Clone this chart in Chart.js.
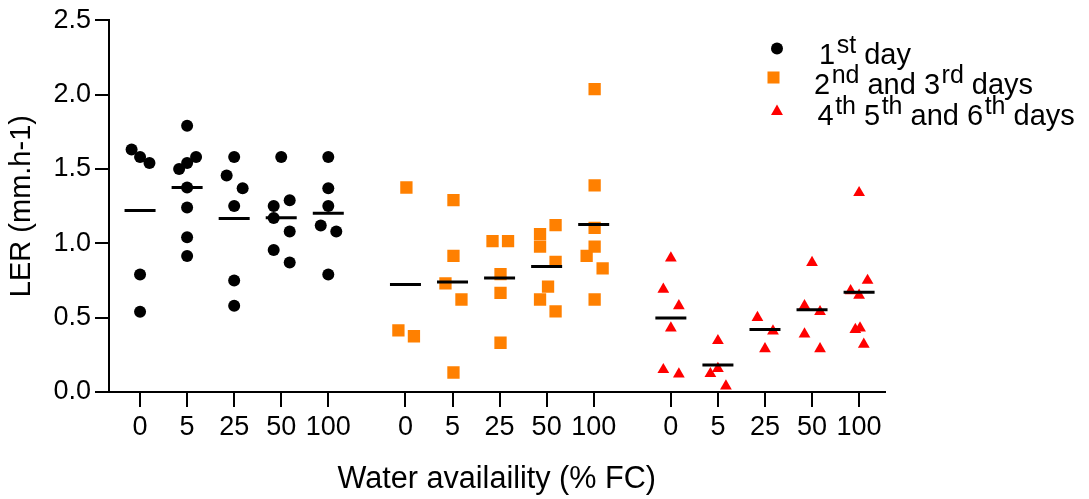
<!DOCTYPE html>
<html>
<head>
<meta charset="utf-8">
<script src="https://cdn.jsdelivr.net/npm/chart.js@4.4.1/dist/chart.umd.min.js"></script>
<style>
html, body { margin: 0; padding: 0; background: #ffffff; }
#wrap { width: 1089px; height: 499px; position: relative; }
canvas { display: block; }
</style>
</head>
<body>
<div id="wrap"><canvas id="c" width="1089" height="499"></canvas></div>
<script>
// ---------- DATA ----------
const tickLabels = ['0', '5', '25', '50', '100'];
const seriesNames = ['1^st day', '2^nd and 3^rd days', '4^th 5^th and 6^th days'];
const yTitle = 'LER (mm.h-1)';
const xTitle = 'Water availaility (% FC)';

// LER values per water-availability category (0, 5, 25, 50, 100)
const day1Values = [
  [1.63, 1.58, 1.54, 0.79, 0.54],
  [1.79, 1.58, 1.54, 1.50, 1.375, 1.24, 1.04, 0.915],
  [1.58, 1.455, 1.37, 1.25, 0.75, 0.58],
  [1.58, 1.29, 1.25, 1.17, 1.08, 0.955, 0.87],
  [1.58, 1.37, 1.25, 1.12, 1.08, 0.79]
];
const day1Jitter = [
  [-0.18, 0, 0.2, 0, 0],
  [0, 0.19, 0, -0.17, 0, 0, 0, 0],
  [0, -0.16, 0.18, 0, 0, 0],
  [0, 0.18, -0.16, -0.16, 0.18, -0.16, 0.18],
  [0, 0, 0, -0.16, 0.17, 0]
];
const day1Means = [1.22, 1.375, 1.167, 1.171, 1.202];

const day23Values = [
  [1.375, 0.415, 0.375],
  [1.29, 0.915, 0.731, 0.622, 0.131],
  [1.015, 1.015, 0.793, 0.667, 0.331],
  [1.122, 1.062, 0.977, 0.875, 0.709, 0.622, 0.542],
  [2.037, 1.389, 1.104, 0.977, 0.915, 0.831, 0.622]
];
const day23Jitter = [
  [0.02, -0.15, 0.18],
  [0.02, 0.02, -0.15, 0.19, 0.02],
  [-0.15, 0.18, 0.02, 0.02, 0.02],
  [0.19, -0.14, -0.14, 0.19, 0.03, -0.14, 0.19],
  [0.02, 0.02, 0.02, 0.02, -0.15, 0.19, 0.02]
];
const day23Means = [0.722, 0.74, 0.767, 0.844, 1.127];

const day456Values = [
  [0.90, 0.69, 0.58, 0.43, 0.15, 0.12],
  [0.345, 0.157, 0.123, 0.04],
  [0.50, 0.41, 0.29],
  [0.87, 0.58, 0.54, 0.39, 0.29],
  [1.34, 0.75, 0.68, 0.65, 0.42, 0.43, 0.32]
];
const day456Jitter = [
  [0, -0.16, 0.17, 0, -0.16, 0.17],
  [0, 0, -0.16, 0.17],
  [-0.16, 0.17, 0],
  [0, -0.16, 0.17, -0.16, 0.17],
  [0, 0.18, -0.18, 0, -0.08, 0.02, 0.1]
];
const day456Means = [0.497, 0.182, 0.42, 0.553, 0.671];

// ---------- BUILD ----------
const GROUP_GAP = 0.64;
const catPos = (g, i) => g * (tickLabels.length + GROUP_GAP) + i;

const groups = [
  { values: day1Values, jitter: day1Jitter, means: day1Means, style: 'circle', color: '#000000', radius: 6 },
  { values: day23Values, jitter: day23Jitter, means: day23Means, style: 'rect', color: '#FF8000', radius: 8.7 },
  { values: day456Values, jitter: day456Jitter, means: day456Means, style: 'triangle', color: '#FF0000', radius: 6.8 }
];

const tickPositions = [];
groups.forEach((g, gi) => tickLabels.forEach((_, i) => tickPositions.push(catPos(gi, i))));

const datasets = [];
const meanPoints = [];
groups.forEach((g, gi) => {
  const pts = [];
  g.values.forEach((arr, ci) => {
    arr.forEach((v, k) => pts.push({ x: catPos(gi, ci) + g.jitter[ci][k], y: v }));
    meanPoints.push({ x: catPos(gi, ci), y: g.means[ci] });
  });
  datasets.push({
    label: seriesNames[gi],
    data: pts,
    pointStyle: g.style,
    pointRadius: g.radius,
    pointHoverRadius: g.radius,
    pointBackgroundColor: g.color,
    pointBorderColor: g.color,
    pointBorderWidth: 0,
    showLine: false,
    order: 2
  });
});
datasets.push({
  label: 'Mean',
  data: meanPoints,
  pointStyle: 'line',
  pointRadius: 15.5,
  pointHoverRadius: 15.5,
  pointBorderColor: '#000000',
  pointBackgroundColor: '#000000',
  pointBorderWidth: 3,
  showLine: false,
  order: 1
});

const FONT = 'Arial, "Liberation Sans", sans-serif';

const supLegend = {
  id: 'supLegend',
  afterDraw(chart) {
    const ctx = chart.ctx;
    const rows = [
      { mx: 777, my: 48.5, tx: 819, ty: 64 },
      { mx: 773.5, my: 77.5, tx: 814, ty: 94 },
      { mx: 777, my: 111.5, tx: 817.5, ty: 124.5 }
    ];
    ctx.save();
    rows.forEach((r, i) => {
      const g = groups[i];
      ctx.fillStyle = g.color;
      ctx.strokeStyle = g.color;
      const rad = g.style === 'circle' ? 6 : (g.style === 'rect' ? 8.5 : 6.9);
      Chart.helpers.drawPoint(ctx, { pointStyle: g.style, radius: rad, rotation: 0, borderWidth: 0 }, r.mx, r.my);
      ctx.fillStyle = '#000000';
      ctx.textBaseline = 'alphabetic';
      ctx.textAlign = 'left';
      let x = r.tx;
      const parts = seriesNames[i].split(/(\^\w+)/).filter(s => s.length);
      parts.forEach(p => {
        if (p.startsWith('^')) {
          ctx.font = '25px ' + FONT;
          const t = p.slice(1);
          ctx.fillText(t, x + 1.5, r.ty - 10.7);
          x += ctx.measureText(t).width + 1.5;
        } else {
          ctx.font = '29px ' + FONT;
          ctx.fillText(p, x, r.ty);
          x += ctx.measureText(p).width;
        }
      });
    });
    ctx.restore();
  }
};

new Chart(document.getElementById('c'), {
  type: 'scatter',
  data: { datasets },
  options: {
    responsive: false,
    animation: false,
    devicePixelRatio: 1,
    layout: { padding: { top: 17, right: 204.5, bottom: 0, left: 0 } },
    plugins: {
      legend: { display: false },
      tooltip: { enabled: false }
    },
    scales: {
      x: {
        type: 'linear',
        min: -0.66,
        max: 15.82,
        afterBuildTicks: (scale) => { scale.ticks = tickPositions.map(v => ({ value: v })); },
        afterFit: (scale) => { scale.height = 107; },
        grid: { drawOnChartArea: false, drawTicks: true, tickLength: 15, color: '#000000', lineWidth: 2 },
        border: { display: true, color: '#000000', width: 2 },
        ticks: {
          autoSkip: false, maxRotation: 0, minRotation: 0, padding: 4,
          color: '#000000', font: { family: FONT, size: 27, lineHeight: 1.2 },
          callback: (value, index) => tickLabels[index % tickLabels.length]
        },
        title: {
          display: true, text: xTitle, color: '#000000',
          font: { family: FONT, size: 30.6, lineHeight: 1.2 },
          padding: { top: 0, bottom: 1.5 }
        }
      },
      y: {
        min: 0,
        max: 2.5,
        afterFit: (scale) => { scale.width = 109; },
        grid: { drawOnChartArea: false, drawTicks: true, tickLength: 14, color: '#000000', lineWidth: 2 },
        border: { display: true, color: '#000000', width: 2 },
        ticks: {
          stepSize: 0.5, padding: 4, color: '#000000',
          font: { family: FONT, size: 27, lineHeight: 1.2 },
          callback: (v) => Number(v).toFixed(1)
        },
        title: {
          display: true, text: yTitle, color: '#000000',
          font: { family: FONT, size: 29, lineHeight: 1.2 },
          padding: { top: 5, bottom: 0 }
        }
      }
    }
  },
  plugins: [supLegend]
});
</script>
</body>
</html>
